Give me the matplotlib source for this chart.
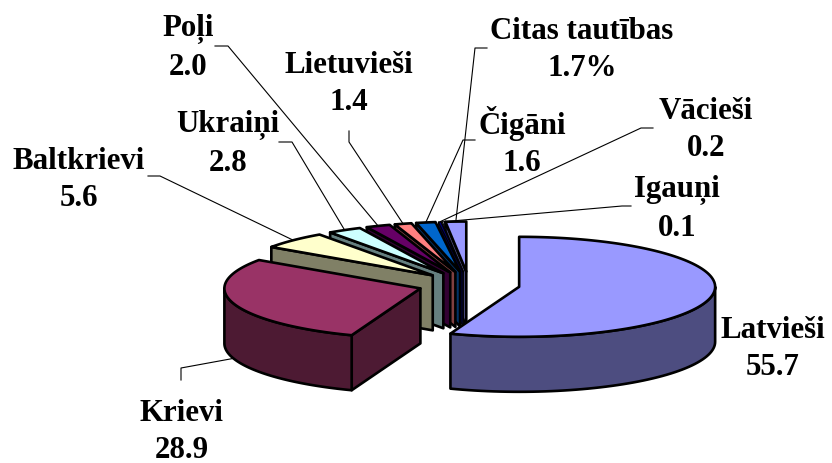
import numpy as np
import matplotlib
matplotlib.use("Agg")
import matplotlib.pyplot as plt

names = ["Latvieši", "Krievi", "Baltkrievi", "Ukraiņi", "Poļi", "Lietuvieši",
         "Čigāni", "Vācieši", "Igauņi", "Citas tautības"]
values = [55.7, 28.9, 5.6, 2.8, 2.0, 1.4, 1.6, 0.2, 0.1, 1.7]
suffixes = ["", "", "", "", "", "", "", "", "", "%"]
colors = ["#9999FF", "#993366", "#FFFFCC", "#CCFFFF", "#660066", "#FF8080",
          "#0066CC", "#000080", "#CCCCFF", "#9999FF"]

# pie geometry, in pixels of the picture
center_x = 469
center_y = 285.5
radius_x = 196
radius_y = 50
depth = 55
explode = 0.26

# label centres and the elbow of each leader line
label_pos = [(773, 349), (182, 432), (79, 180), (228, 144), (188, 48),
             (349, 84), (522, 142), (706, 130), (677, 209), (582, 50)]
leaders = [None,
           [(181, 381), (181, 369)],
           [(148, 177), (160, 177)],
           [(279, 143), (292, 143)],
           [(215, 47), (228, 47)],
           [(349, 132), (349, 143)],
           [(475, 141), (463, 141)],
           [(653, 129), (641, 129)],
           [(631, 207), (622, 207)],
           [(487, 49), (475, 49)]]

plt.rcParams["font.family"] = ["Liberation Serif", "DejaVu Serif"]

fig = plt.figure(figsize=(8.32, 4.64), dpi=100)
ax = fig.add_axes([0, 0, 1, 1])
ax.set_xlim(0, 832)
ax.set_ylim(464, 0)
ax.axis("off")


def darker(color):
    rgb = matplotlib.colors.to_rgb(color)
    return tuple(c * 0.5 for c in rgb)


def rim(cx, cy, angles, drop=0.0):
    xs = cx + radius_x * np.sin(angles)
    ys = cy - radius_y * np.cos(angles) + drop
    return xs, ys


edges = np.radians(np.concatenate([[0], np.cumsum(values)]) * 3.6)
edges = edges * 360 / np.degrees(edges[-1])

# back slices first, Latvieši ends up in front
for i in reversed(range(len(values))):
    start, end = edges[i], edges[i + 1]
    mid = (start + end) / 2
    cx = center_x + explode * radius_x * np.sin(mid)
    cy = center_y - explode * radius_y * np.cos(mid)
    side = darker(colors[i])
    # the two thinnest slices would turn solid black with the full outline
    line_w = 0.7 if values[i] < 0.5 else 1.9

    # radial wall, only when it faces the viewer
    for edge, visible in [(start, np.sin(start) < 0), (end, np.sin(end) > 0)]:
        if visible:
            ex, ey = rim(cx, cy, np.array([edge]))
            ax.fill([cx, ex[0], ex[0], cx], [cy, ey[0], ey[0] + depth, cy + depth],
                    facecolor=side, edgecolor="black", linewidth=line_w, joinstyle="round")

    # outer wall, front half of the ellipse
    a0 = max(start, np.pi / 2)
    a1 = min(end, 3 * np.pi / 2)
    if a1 > a0:
        arc = np.linspace(a0, a1, 60)
        x1, y1 = rim(cx, cy, arc)
        x2, y2 = rim(cx, cy, arc, depth)
        ax.fill(np.concatenate([x1, x2[::-1]]), np.concatenate([y1, y2[::-1]]),
                facecolor=side, edgecolor="black", linewidth=line_w, joinstyle="round")

    # top face
    arc = np.linspace(start, end, 120)
    x1, y1 = rim(cx, cy, arc)
    ax.fill(np.concatenate([[cx], x1]), np.concatenate([[cy], y1]),
            facecolor=colors[i], edgecolor="black", linewidth=line_w, joinstyle="round")

    # leader line runs to the rim of the slice
    if leaders[i] is not None:
        ax_, ay_ = rim(cx, cy, np.array([mid]), depth if np.cos(mid) < 0 else 0)
        xs = [p[0] for p in leaders[i]] + [ax_[0]]
        ys = [p[1] for p in leaders[i]] + [ay_[0]]
        ax.plot(xs, ys, color="black", linewidth=0.8, zorder=5)

    text = f"{names[i]}\n{values[i]:.1f}{suffixes[i]}"
    ax.text(label_pos[i][0], label_pos[i][1], text, ha="center", va="center",
            fontsize=22.2, fontweight="bold", color="black", linespacing=1.38, zorder=6)

fig.savefig("out.png", dpi=100)
